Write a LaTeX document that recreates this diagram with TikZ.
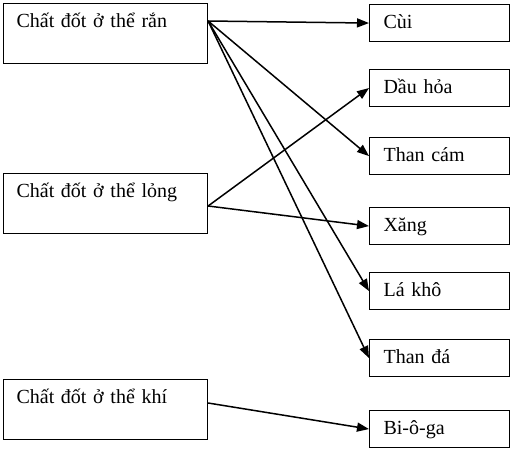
\documentclass[tikz,border=0pt]{standalone}
\usepackage{fontspec}
\setmainfont{Liberation Serif}
\usetikzlibrary{arrows.meta}

\begin{document}
\begin{tikzpicture}[x=1pt,y=-1pt,font=\fontsize{20}{24}\selectfont,
  line width=1.1pt,
  srcbox/.style={draw,anchor=north west,align=left,text width=178pt,
    inner xsep=13pt,inner ysep=4pt,text height=20pt,text depth=32pt},
  fuelbox/.style={draw,anchor=north west,align=left,text width=112pt,
    inner xsep=14pt,inner ysep=4pt,text height=20pt,text depth=9pt},
  link/.style={-{Triangle[length=12pt,width=9pt]},line width=1.5pt}]

\useasboundingbox (0,0) rectangle (513,453);

% States
\node[srcbox] (solid) at (3,3) {Chất đốt ở thể rắn};
\node[srcbox] (liquid) at (3,173) {Chất đốt ở thể lỏng};
\node[srcbox] (gas) at (3,379) {Chất đốt ở thể khí};

% Fuels
\node[fuelbox] (cui) at (369,4) {Cùi};
\node[fuelbox] (dauhoa) at (369,69) {Dầu hỏa};
\node[fuelbox] (thancam) at (369,137) {Than cám};
\node[fuelbox] (xang) at (369,207) {Xăng};
\node[fuelbox] (lakho) at (369,272) {Lá khô};
\node[fuelbox] (thanda) at (369,339) {Than đá};
\node[fuelbox] (bioga) at (369,410) {Bi-ô-ga};

% Start points
\coordinate (solid-out) at ([yshift=-18pt]solid.north east);
\coordinate (liquid-out) at ([yshift=-33pt]liquid.north east);
\coordinate (gas-out) at ([yshift=-24pt]gas.north east);

% Solid
\draw[link] (solid-out) -- (cui.west);
\draw[link] (solid-out) -- (thancam.west);
\draw[link] (solid-out) -- (lakho.west);
\draw[link] (solid-out) -- (thanda.west);

% Liquid
\draw[link] (liquid-out) -- (dauhoa.west);
\draw[link] (liquid-out) -- (xang.west);

% Gas
\draw[link] (gas-out) -- (bioga.west);

\end{tikzpicture}
\end{document}
